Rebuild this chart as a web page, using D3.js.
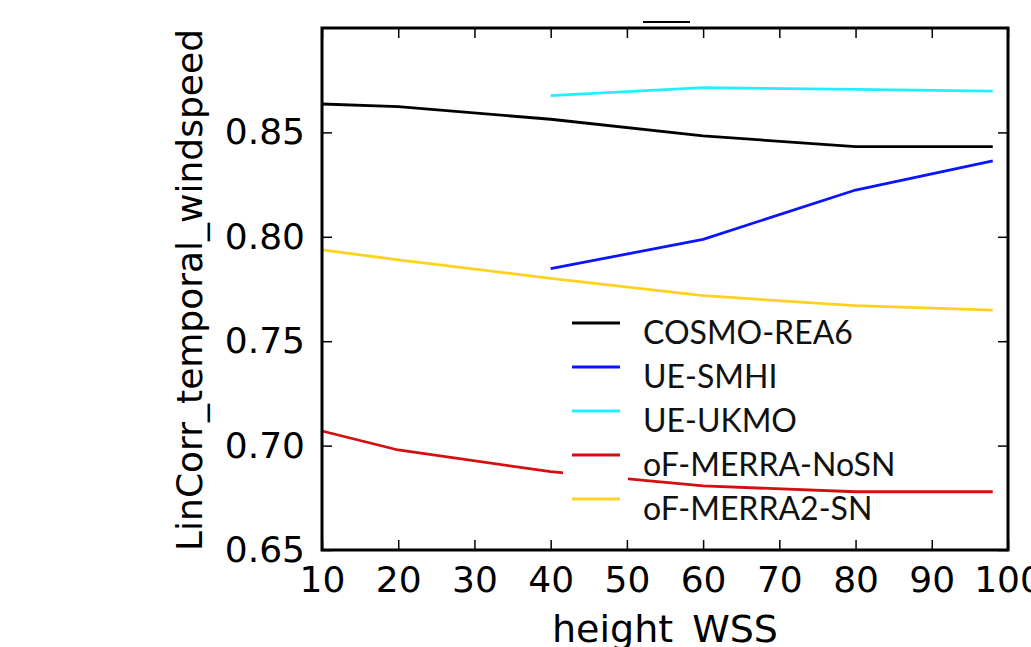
<!DOCTYPE html>
<html><head><meta charset="utf-8">
<script src="https://cdn.jsdelivr.net/npm/d3@7"></script>
<style>html,body{margin:0;padding:0;background:#fff;overflow:hidden}</style>
</head><body>
<svg id="c" width="1031" height="647"></svg>
<script>
const heights = [10, 20, 40, 60, 80, 98];
const seriesNames = ["COSMO-REA6", "UE-SMHI", "UE-UKMO", "oF-MERRA-NoSN", "oF-MERRA2-SN"];
const seriesColors = ["#000000", "#0a14ff", "#1ef0ff", "#d40f0f", "#ffd21e"];
const cosmo = [0.8636, 0.8623, 0.8563, 0.8483, 0.8432, 0.8432];
const smhi = [null, null, 0.7847, 0.7988, 0.8224, 0.8364];
const ukmo = [null, null, 0.8676, 0.8714, 0.8706, 0.8698];
const merraNoSN = [0.7070, 0.6979, 0.6875, 0.6807, 0.6779, 0.6779];
const merra2SN = [0.7937, 0.7890, 0.7801, 0.7718, 0.7670, 0.7649];
const xTicks = [10, 20, 30, 40, 50, 60, 70, 80, 90, 100];
const yTicks = [0.65, 0.70, 0.75, 0.80, 0.85];
const xLabel = "height_WSS";
const yLabel = "LinCorr_temporal_windspeed";

const allSeries = [cosmo, smhi, ukmo, merraNoSN, merra2SN];
const svg = d3.select("#c");
const L = 322, R = 1008, T = 28, B = 550;
const x = d3.scaleLinear().domain([10, 100]).range([L, R]);
const y = d3.scaleLinear().domain([0.65, 0.90]).range([B, T]);
const axisFont = "'DejaVu Sans', sans-serif";

// lines
const line = d3.line().defined(d => d[1] !== null).x(d => x(d[0])).y(d => y(d[1]));
allSeries.forEach((s, i) => {
  svg.append("path").datum(heights.map((h, j) => [h, s[j]]))
    .attr("d", line).attr("fill", "none")
    .attr("stroke", seriesColors[i]).attr("stroke-width", 2.8)
    .attr("stroke-linejoin", "round");
});

// legend
const legX = x(10) + 250, legY0 = 323, legDy = 44;
svg.append("rect").attr("x", legX - 9).attr("y", legY0 - 10)
  .attr("width", 65).attr("height", legDy * 4 + 24).attr("fill", "#fff");
seriesNames.forEach((n, i) => {
  const yy = legY0 + i * legDy;
  svg.append("line").attr("x1", legX).attr("x2", legX + 48).attr("y1", yy).attr("y2", yy)
    .attr("stroke", seriesColors[i]).attr("stroke-width", 3);
  svg.append("text").attr("x", legX + 71).attr("y", yy + 21)
    .attr("font-family", "Lato, 'Open Sans', sans-serif").attr("font-size", 32)
    .attr("fill", "#111").text(n);
});

// axes frame
const g = svg.append("g");
g.append("rect").attr("x", L).attr("y", T).attr("width", R - L).attr("height", B - T)
  .attr("fill", "none").attr("stroke", "#000").attr("stroke-width", 3);

const xb = g.append("g").attr("transform", `translate(0,${B})`)
  .call(d3.axisBottom(x).tickValues(xTicks).tickSize(-10).tickPadding(16).tickFormat(d3.format("d")));
const xt = g.append("g").attr("transform", `translate(0,${T})`)
  .call(d3.axisTop(x).tickValues(xTicks).tickSize(-10).tickFormat(""));
const yl = g.append("g").attr("transform", `translate(${L},0)`)
  .call(d3.axisLeft(y).tickValues(yTicks).tickSize(-10).tickPadding(17).tickFormat(d3.format(".2f")));
const yr = g.append("g").attr("transform", `translate(${R},0)`)
  .call(d3.axisRight(y).tickValues(yTicks).tickSize(-10).tickFormat(""));
[xb, xt, yl, yr].forEach(a => {
  a.select(".domain").remove();
  a.selectAll(".tick line").attr("stroke", "#000").attr("stroke-width", 1.5);
  a.selectAll("text").attr("font-family", axisFont).attr("font-size", 36).attr("fill", "#000");
});
xb.selectAll("text").attr("dy", "0.71em");

// axis labels
svg.append("text").attr("x", (L + R) / 2).attr("y", 642).attr("text-anchor", "middle")
  .attr("font-family", axisFont).attr("font-size", 38).text(xLabel);
svg.append("text").attr("transform", `translate(202,${(T + B) / 2 + 1}) rotate(-90)`)
  .attr("text-anchor", "middle").attr("font-family", axisFont).attr("font-size", 36).text(yLabel);

// title remnant
svg.append("line").attr("x1", 643).attr("x2", 690).attr("y1", 22).attr("y2", 22)
  .attr("stroke", "#000").attr("stroke-width", 2);
</script>
</body></html>
